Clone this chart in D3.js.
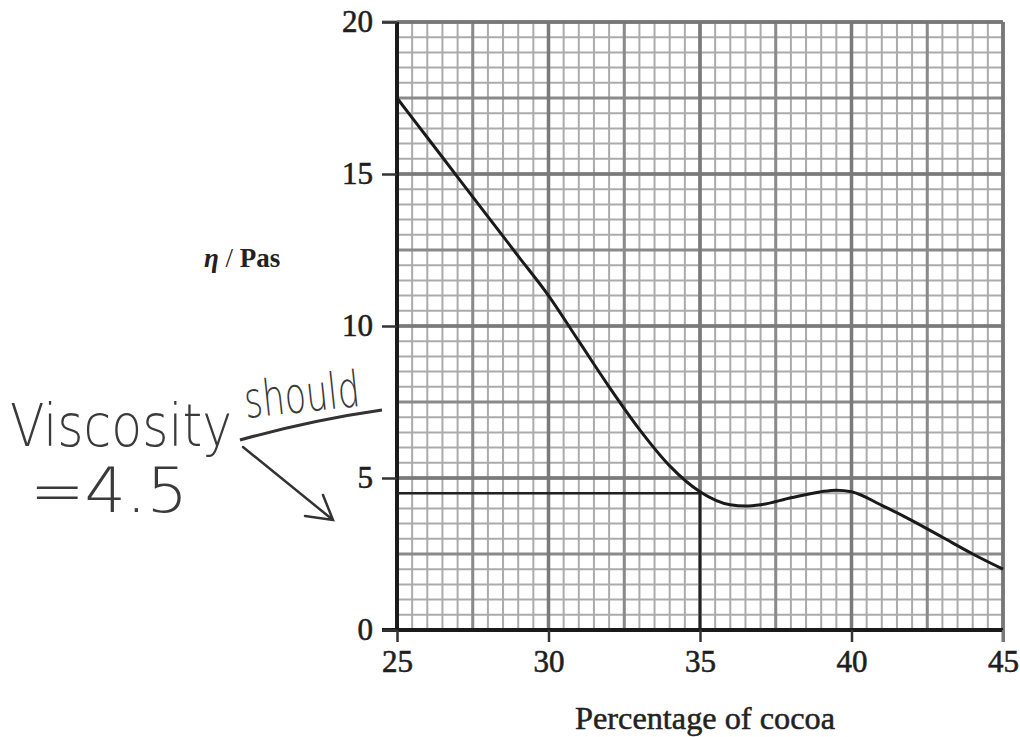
<!DOCTYPE html>
<html><head><meta charset="utf-8">
<script src="https://cdn.jsdelivr.net/npm/d3@7/dist/d3.min.js"></script>
<style>body{margin:0;background:#fff}svg{display:block}</style>
</head><body>
<script>
const cocoa = [25,26,27,28,29,30,31,32,33,34,35,36,36.5,37,38,39,39.5,40,41,42,43,44,45];
const viscosity = [17.5,16.2,14.9,13.6,12.3,11.0,9.5,8.0,6.6,5.4,4.55,4.12,4.08,4.12,4.35,4.55,4.6,4.55,4.1,3.6,3.05,2.5,2.0];
const xTicks = [25,30,35,40,45];
const yTicks = [0,5,10,15,20];
const readX = 35, readY = 4.5;
const xLabel = "Percentage of cocoa";
const yLabel = "Pas";
const noteWords = ["Viscosity", "should"];
const note2 = "=4.5";

const W=1020,H=737;
const svg=d3.select("body").append("svg").attr("width",W).attr("height",H);
const x=d3.scaleLinear().domain([25,45]).range([397,1003]);
const y=d3.scaleLinear().domain([0,20]).range([630,22]);
const serif="'Liberation Serif','DejaVu Serif',serif";

const g=svg.append("g");
function grid(step,color,width){
  const xs=d3.range(25,45.001,step), ys=d3.range(0,20.001,step);
  g.selectAll(null).data(xs).enter().append("line")
    .attr("x1",d=>x(d)).attr("x2",d=>x(d)).attr("y1",y(0)).attr("y2",y(20))
    .attr("stroke",color).attr("stroke-width",width);
  g.selectAll(null).data(ys).enter().append("line")
    .attr("y1",d=>y(d)).attr("y2",d=>y(d)).attr("x1",x(25)).attr("x2",x(45))
    .attr("stroke",color).attr("stroke-width",width);
}
grid(0.5,"#ababab",2);
grid(2.5,"#8a8a8a",3);
grid(5,"#7a7a7a",3.5);

svg.append("line").attr("x1",382).attr("x2",x(45)).attr("y1",y(20)).attr("y2",y(20)).attr("stroke","#777").attr("stroke-width",3);
svg.append("line").attr("x1",x(45)).attr("x2",x(45)).attr("y1",y(20)).attr("y2",y(0)+12).attr("stroke","#777").attr("stroke-width",3);

const xAxis=d3.axisBottom(x).tickValues(xTicks).tickSize(12).tickPadding(8).tickFormat(d3.format("d"));
const yAxis=d3.axisLeft(y).tickValues(yTicks).tickSize(15).tickPadding(9).tickFormat(d3.format("d"));
const ax=svg.append("g").attr("transform",`translate(0,${y(0)})`).call(xAxis);
const ay=svg.append("g").attr("transform",`translate(${x(25)},0)`).call(yAxis);
[ax,ay].forEach(a=>{
  a.select(".domain").attr("stroke","#1a1a1a").attr("stroke-width",4);
  a.selectAll(".tick line").attr("stroke","#333").attr("stroke-width",2.5);
  a.selectAll(".tick text").attr("fill","#1e1e1e").attr("stroke","#1e1e1e").attr("stroke-width",0.6)
    .style("font-family",serif).style("font-size","31px");
});
ax.select(".domain").attr("d",`M${x(25)-15},0H${x(45)}`);
ay.select(".domain").attr("d",`M0,${y(0)}V${y(20)}`);
ax.selectAll(".tick").filter(d=>d===45).select("line").attr("stroke","#777").attr("stroke-width",3);

svg.append("line").attr("x1",x(25)).attr("x2",x(readX)).attr("y1",y(readY)).attr("y2",y(readY)).attr("stroke","#222").attr("stroke-width",2.5);
svg.append("line").attr("x1",x(readX)).attr("x2",x(readX)).attr("y1",y(readY)).attr("y2",y(0)).attr("stroke","#222").attr("stroke-width",2.5);

const line=d3.line().x((d,i)=>x(cocoa[i])).y(d=>y(d)).curve(d3.curveMonotoneX);
svg.append("path").datum(viscosity).attr("d",line).attr("fill","none").attr("stroke","#1a1a1a").attr("stroke-width",3);

const yl=svg.append("text").attr("x",204).attr("y",267).attr("fill","#222")
  .style("font-family",serif).style("font-size","27px");
yl.append("tspan").style("font-style","italic").style("font-weight","bold").text("η");
yl.append("tspan").text(" / ");
yl.append("tspan").style("font-weight","bold").text(yLabel);
svg.append("text").attr("x",705).attr("y",729).attr("text-anchor","middle").attr("fill","#222").attr("stroke","#222").attr("stroke-width",0.5)
  .style("font-family",serif).style("font-size","32px").attr("textLength",260).attr("lengthAdjust","spacingAndGlyphs").text(xLabel);

const hand="'DejaVu Sans','Liberation Sans',sans-serif";
svg.append("text").attr("x",10).attr("y",446).style("font-family",hand).style("font-weight","200").style("font-size","58px").attr("fill","#3a3a3a")
  .attr("textLength",222).attr("lengthAdjust","spacingAndGlyphs").text(noteWords[0]);
svg.append("text").attr("transform","translate(246,418) rotate(-6)").style("font-family",hand).style("font-weight","200").style("font-size","50px").attr("fill","#3a3a3a")
  .attr("textLength",116).attr("lengthAdjust","spacingAndGlyphs").text(noteWords[1]);
svg.append("text").attr("x",30).attr("y",512).style("font-family",hand).style("font-weight","200").style("font-size","62px").attr("fill","#3a3a3a")
  .attr("textLength",158).attr("lengthAdjust","spacingAndGlyphs").text(note2);
svg.append("path").attr("d","M240,440 Q312,420 382,410").attr("fill","none").attr("stroke","#333").attr("stroke-width",3);
svg.append("path").attr("d","M243,447 L333,520 M305,516 L333,520 L323,495").attr("fill","none").attr("stroke","#333").attr("stroke-width",2.5).attr("stroke-linecap","round");
</script>
</body></html>
